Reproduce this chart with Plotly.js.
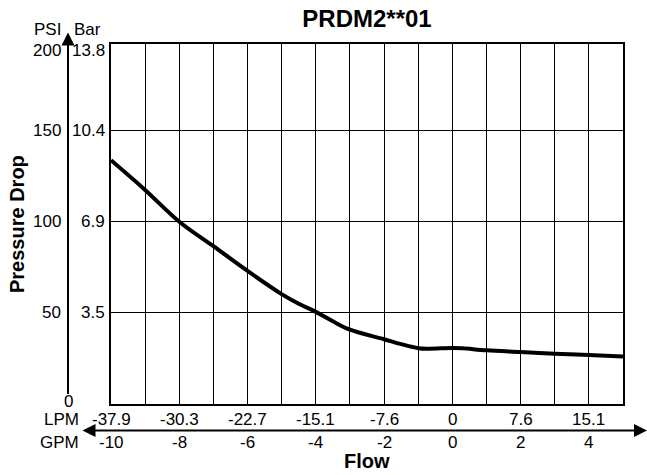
<!DOCTYPE html>
<html>
<head>
<meta charset="utf-8">
<script src="https://cdn.plot.ly/plotly-3.0.1.min.js"></script>
<style>html,body{margin:0;padding:0;background:#fff;}#chart{width:647px;height:475px;}</style>
</head>
<body>
<div id="chart"></div>
<script>
// Curve: flow (GPM) vs pressure drop (PSI)
const gpm = [-10, -9, -8, -7, -6, -5, -4.5, -4, -3.5, -3, -2, -1.5, -1, -0.7, 0, 0.3, 1, 2, 3, 4, 5];
const psi = [133.6, 117.3, 99.9, 86.5, 72.9, 60.2, 54.9, 50.5, 45.3, 40.7, 35.5, 32.8, 30.6, 30.3, 30.7, 30.5, 29.4, 28.5, 27.6, 26.8, 26.0];

// Tick labels
const gpmTicks = [-10, -8, -6, -4, -2, 0, 2, 4];
const lpmTicks = ['-37.9', '-30.3', '-22.7', '-15.1', '-7.6', '0', '7.6', '15.1'];
const psiTicks = [0, 50, 100, 150, 200];
const barVals = [50, 100, 150, 200];
const barTicks = ['3.5', '6.9', '10.4', '13.8'];

const FONT = 'Liberation Sans, Arial, Helvetica, sans-serif';
const yMax = 197.3;
const txt = {family: FONT, size: 17, color: '#000'};

const ann = [];
// PSI / Bar column headers
ann.push({text: 'PSI', xref: 'paper', x: 0, xanchor: 'right', xshift: -48, yref: 'paper', y: 1, yanchor: 'middle', yshift: 15, showarrow: false, font: txt});
ann.push({text: 'Bar', xref: 'paper', x: 0, xanchor: 'left', xshift: -39, yref: 'paper', y: 1, yanchor: 'middle', yshift: 15, showarrow: false, font: txt});
// PSI values
psiTicks.forEach(v => {
  if (v === 0) {
    ann.push({text: String(v), xref: 'paper', x: 0, xanchor: 'center', xshift: -43, yref: 'y', y: 0, yanchor: 'middle', yshift: 3, showarrow: false, font: txt});
  } else {
    const over = v > yMax;
    ann.push({text: String(v), xref: 'paper', x: 0, xanchor: 'right', xshift: -48, yref: 'y', y: over ? yMax : v, yanchor: over ? 'top' : 'middle', yshift: over ? 5 : 0, showarrow: false, font: txt});
  }
});
// Bar values
barVals.forEach((v, i) => {
  const over = v > yMax;
  ann.push({text: barTicks[i], xref: 'paper', x: 0, xanchor: 'right', xshift: -4, yref: 'y', y: over ? yMax : v, yanchor: over ? 'top' : 'middle', yshift: over ? 5 : 0, showarrow: false, font: txt});
});
// LPM / GPM row labels
ann.push({text: 'LPM', xref: 'paper', x: 0, xanchor: 'right', xshift: -30, yref: 'paper', y: 0, yanchor: 'middle', yshift: -15, showarrow: false, font: txt});
ann.push({text: 'GPM', xref: 'paper', x: 0, xanchor: 'right', xshift: -30, yref: 'paper', y: 0, yanchor: 'middle', yshift: -38, showarrow: false, font: txt});
gpmTicks.forEach((g, i) => {
  ann.push({text: lpmTicks[i], xref: 'x', x: g, xanchor: 'center', yref: 'paper', y: 0, yanchor: 'middle', yshift: -15, showarrow: false, font: txt});
  ann.push({text: String(g), xref: 'x', x: g, xanchor: 'center', yref: 'paper', y: 0, yanchor: 'middle', yshift: -38, showarrow: false, font: txt});
});
// Axis titles
ann.push({text: '<b>Flow</b>', xref: 'paper', x: 0.5, xanchor: 'center', yref: 'paper', y: 0, yanchor: 'middle', yshift: -57, showarrow: false, font: {family: FONT, size: 20, color: '#000'}});
ann.push({text: '<b>Pressure Drop</b>', textangle: -90, xref: 'paper', x: 0, xanchor: 'center', xshift: -94, yref: 'paper', y: 0.5, yanchor: 'middle', showarrow: false, font: {family: FONT, size: 20, color: '#000'}});
// Vertical arrow (pressure axis)
ann.push({text: '', xref: 'paper', x: 0, xshift: -43, yref: 'paper', y: 1, yshift: 11.5, showarrow: true, axref: 'pixel', ayref: 'pixel', ax: 0, ay: 363, arrowhead: 2, arrowsize: 1.3, arrowwidth: 2, arrowcolor: '#000', standoff: 0, startstandoff: 0});
// Horizontal double arrow (flow axis)
ann.push({text: '', xref: 'paper', x: 1, xshift: 24, yref: 'paper', y: 0, yshift: -26.5, showarrow: true, axref: 'pixel', ayref: 'pixel', ax: -566, ay: 0, arrowhead: 2, startarrowhead: 2, arrowside: 'end+start', arrowsize: 1.3, startarrowsize: 1.3, arrowwidth: 2, arrowcolor: '#000', standoff: 0, startstandoff: 0});

const trace = {
  x: gpm, y: psi, type: 'scatter', mode: 'lines',
  line: {color: '#000', width: 4, shape: 'spline', smoothing: 1},
  hoverinfo: 'skip'
};

const layout = {
  width: 647, height: 475,
  margin: {l: 111, r: 24, t: 44, b: 71, pad: 0},
  paper_bgcolor: '#fff', plot_bgcolor: '#fff',
  showlegend: false,
  title: {text: '<b>PRDM2**01</b>', xref: 'paper', x: 0.5, xanchor: 'center', yref: 'container', y: 1 - 19 / 475, yanchor: 'middle', font: {family: FONT, size: 24, color: '#000'}},
  xaxis: {range: [-10, 5], tick0: -10, dtick: 1, showgrid: true, gridcolor: '#000', gridwidth: 1, zeroline: false, showticklabels: false, ticks: '', showline: true, linecolor: '#000', linewidth: 2, mirror: true, fixedrange: true},
  yaxis: {range: [0, yMax], tickmode: 'array', tickvals: [50, 100, 150], showgrid: true, gridcolor: '#000', gridwidth: 1, zeroline: false, showticklabels: false, ticks: '', showline: true, linecolor: '#000', linewidth: 2, mirror: true, fixedrange: true},
  annotations: ann
};

Plotly.newPlot('chart', [trace], layout, {displayModeBar: false, staticPlot: true});
</script>
</body>
</html>
